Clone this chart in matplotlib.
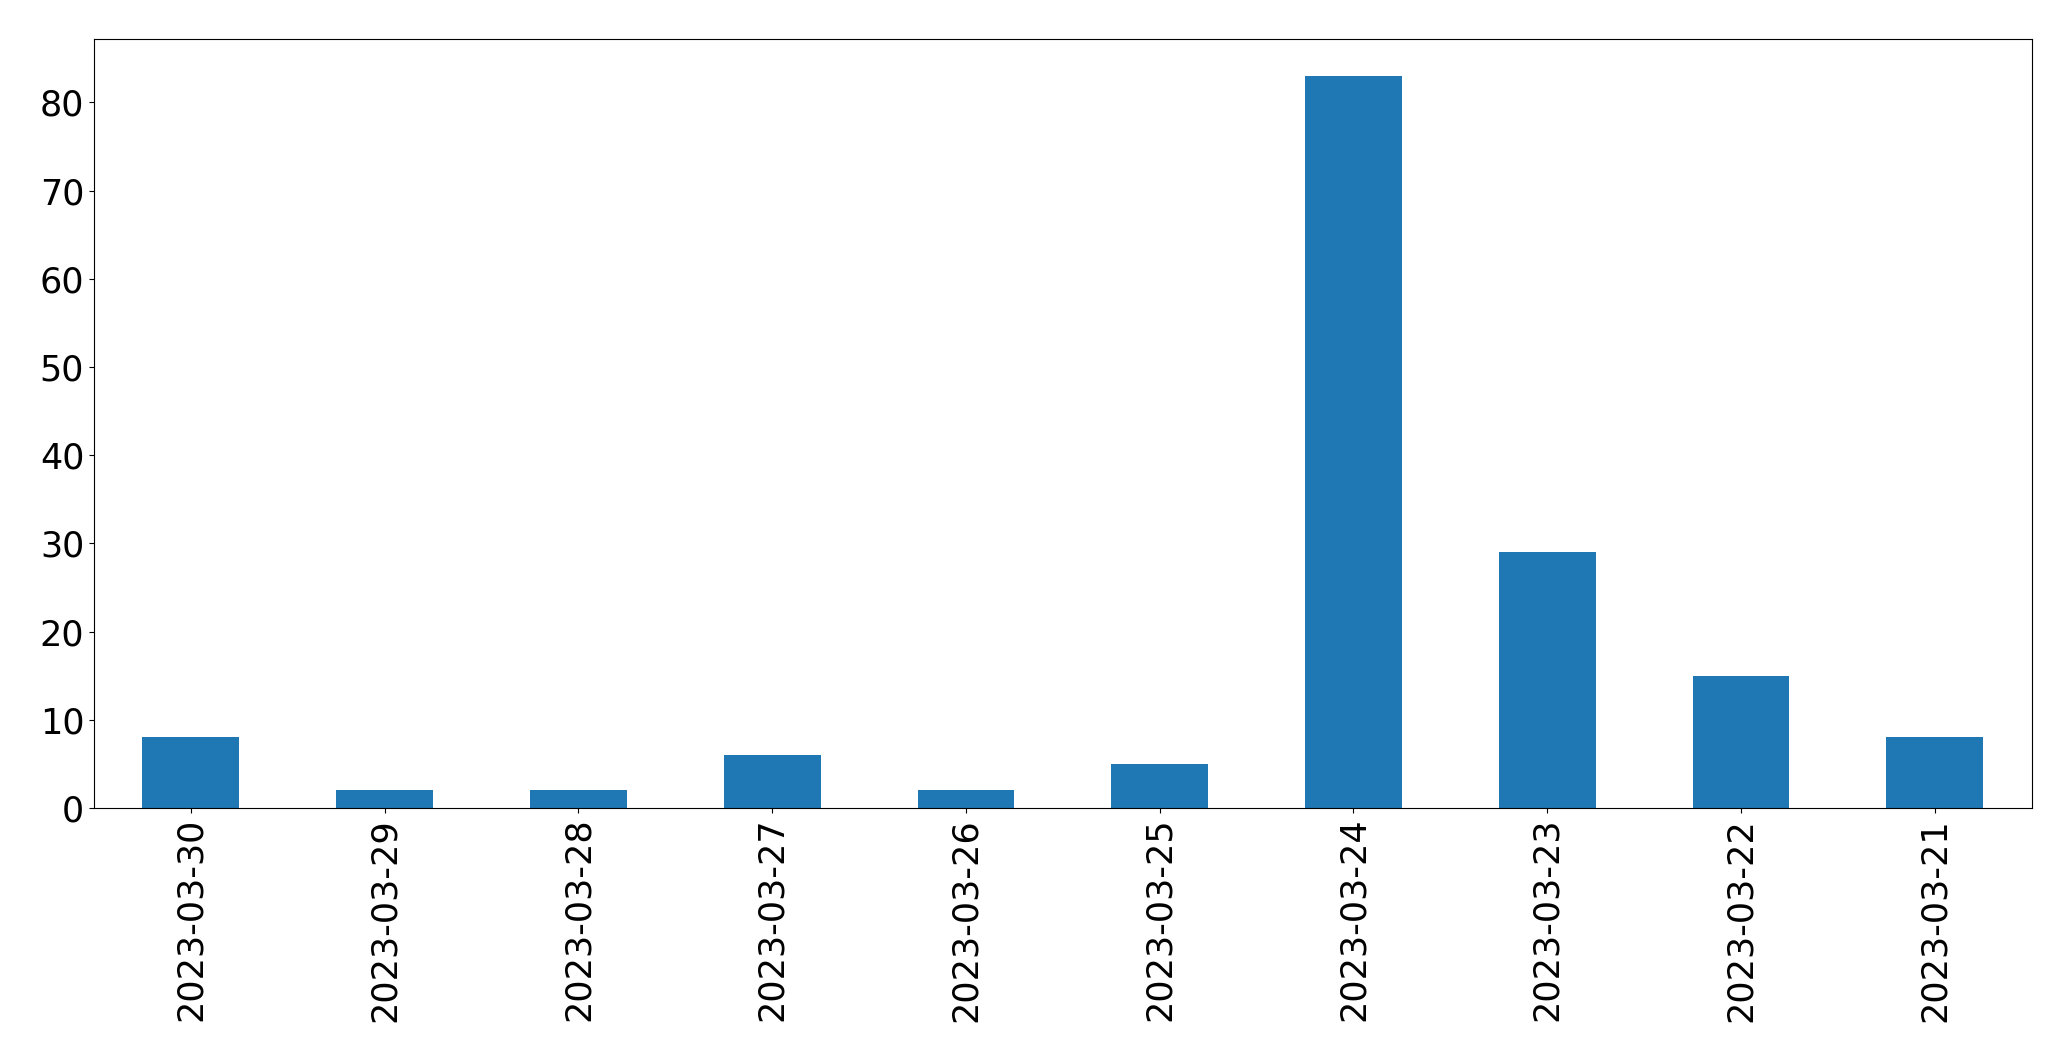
import matplotlib
matplotlib.use('Agg')
import matplotlib.pyplot as plt
import numpy as np

# daily counts, newest first
dates = ['2023-03-30', '2023-03-29', '2023-03-28', '2023-03-27', '2023-03-26',
         '2023-03-25', '2023-03-24', '2023-03-23', '2023-03-22', '2023-03-21']
counts = [8, 2, 2, 6, 2, 5, 83, 29, 15, 8]

fig, ax = plt.subplots(figsize=(20.71, 10.61), dpi=100)
fig.subplots_adjust(left=0.0454, right=0.981, top=0.963, bottom=0.2384)

x = np.arange(len(dates))
ax.bar(x, counts, width=0.5, color='#1f77b4')
ax.set_xlim(-0.5, len(dates) - 0.5)
ax.set_xticks(x)
ax.set_xticklabels(dates, rotation=90)
ax.tick_params(axis='both', labelsize=25.2)

fig.savefig('out.png', dpi=100)
